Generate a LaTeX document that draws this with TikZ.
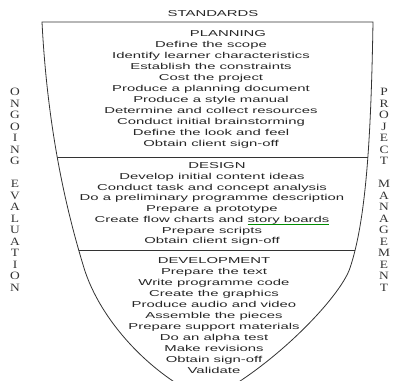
\documentclass[tikz,border=0pt]{standalone}
\usepackage{fontspec}
\setmainfont{Liberation Sans}
\newfontfamily\boxfont{Liberation Sans}[FakeStretch=1.73]
\newfontfamily\sidefont{Liberation Serif}[FakeStretch=1.2]
\newcommand{\greenul}[1]{\setbox0=\hbox{#1}\rlap{\textcolor{green!55!black}{\rule[-1.6pt]{\wd0}{0.35pt}}}\box0}
\tikzset{
  txt/.style={anchor=base,inner sep=0.75pt,text=black!85,font=\boxfont\fontsize{6.45}{7.7}\selectfont},
  side/.style={anchor=north,inner sep=0pt,align=center,text=black!80,font=\sidefont\fontsize{8.4}{8.625}\selectfont},
  outline/.style={line width=0.6pt,draw=black!80}
}
\begin{document}
\begin{tikzpicture}[x=0.75pt,y=0.75pt,yscale=-1,xscale=1]
    \useasboundingbox (0,0) rectangle (393,381);
    %Funnel outline
    \draw[outline] (42,22) -- (373,22) .. controls (371,140) and (366,220) .. (350,268) .. controls (340,298) and (270,370) .. (207,400) .. controls (150,375) and (100,320) .. (84,268) .. controls (70,222) and (48,140) .. (42,22) -- cycle ;
    %Section lines
    \begin{scope}
    \clip (42,22) -- (373,22) .. controls (371,140) and (366,220) .. (350,268) .. controls (340,298) and (270,370) .. (207,400) .. controls (150,375) and (100,320) .. (84,268) .. controls (70,222) and (48,140) .. (42,22) -- cycle ;
    \draw[outline] (0,157) -- (393,157) ;
    \draw[outline] (0,250) -- (393,250) ;
    \end{scope}
    % Text Node
    \node (standards) [txt] at (213,16.5) {STANDARDS};
    % Planning
    \node (planning) [txt] at (228,37) {PLANNING};
    \node (plan1) [txt] at (211,47.5) {Define the scope};
    \node (plan2) [txt] at (211,58.5) {Identify learner characteristics};
    \node (plan3) [txt] at (211,69.4) {Establish the constraints};
    \node (plan4) [txt] at (211,80.4) {Cost the project};
    \node (plan5) [txt] at (211,91.3) {Produce a planning document};
    \node (plan6) [txt] at (211,102.3) {Produce a style manual};
    \node (plan7) [txt] at (211,113.2) {Determine and collect resources};
    \node (plan8) [txt] at (211,124.2) {Conduct initial brainstorming};
    \node (plan9) [txt] at (211,135.1) {Define the look and feel};
    \node (plan10) [txt] at (211,146.1) {Obtain client sign-off};
    % Design
    \node (design) [txt] at (217,168.5) {DESIGN};
    \node (des1) [txt] at (212,179.5) {Develop initial content ideas};
    \node (des2) [txt] at (212,190.3) {Conduct task and concept analysis};
    \node (des3) [txt] at (212,201) {Do a preliminary programme description};
    \node (des4) [txt] at (212,211.8) {Prepare a prototype};
    \node (des5) [txt] at (212,222.5) {Create flow charts and \greenul{story boards}};
    \node (des6) [txt] at (212,233.3) {Prepare scripts};
    \node (des7) [txt] at (212,244) {Obtain client sign-off};
    % Development
    \node (development) [txt] at (214,264) {DEVELOPMENT};
    \node (dev1) [txt] at (214,275) {Prepare the text};
    \node (dev2) [txt] at (214,285.9) {Write programme code};
    \node (dev3) [txt] at (214,296.8) {Create the graphics};
    \node (dev4) [txt] at (214,307.7) {Produce audio and video};
    \node (dev5) [txt] at (214,318.6) {Assemble the pieces};
    \node (dev6) [txt] at (214,329.5) {Prepare support materials};
    \node (dev7) [txt] at (214,340.4) {Do an alpha test};
    \node (dev8) [txt] at (214,351.3) {Make revisions};
    \node (dev9) [txt] at (214,362.2) {Obtain sign-off};
    \node (dev10) [txt] at (214,373.1) {Validate};
    % Side labels
    \node (ongoing) [side] at (15,88) {O\\N\\G\\O\\I\\N\\G\\[8.625pt]E\\V\\A\\L\\U\\A\\T\\I\\O\\N};
    \node (projmgmt) [side] at (384,88) {P\\R\\O\\J\\E\\C\\T\\[8.625pt]M\\A\\N\\A\\G\\E\\M\\E\\N\\T};
\end{tikzpicture}
\end{document}
